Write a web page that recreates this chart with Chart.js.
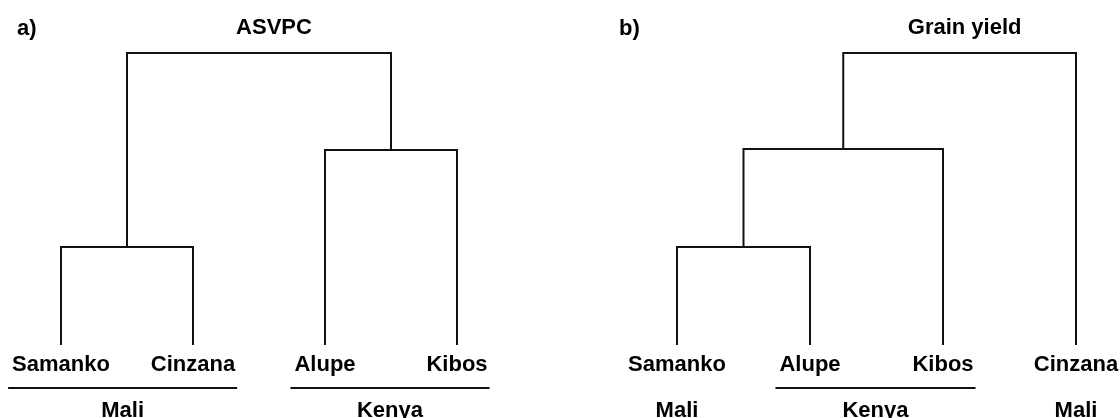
<!DOCTYPE html>
<html>
<head>
<meta charset="utf-8">
<script src="https://cdn.jsdelivr.net/npm/chart.js@4"></script>
<style>
  body { margin: 0; background: #fff; }
  #wrap { display: flex; width: 1120px; height: 418px; }
  canvas { display: block; }
</style>
</head>
<body>
<div id="wrap">
  <canvas id="chartA" width="560" height="418"></canvas>
  <canvas id="chartB" width="560" height="418"></canvas>
</div>
<script>
// panel a) ASVPC
const leavesA = ['Samanko', 'Cinzana', 'Alupe', 'Kibos'];
const groupsA = ['Mali', 'Mali', 'Kenya', 'Kenya'];
// [left node, right node, height]; leaves are 0..3, merges numbered from 4
const mergesA = [[0, 1, 33.6], [2, 3, 66.8], [4, 5, 100]];

// panel b) Grain yield
const leavesB = ['Samanko', 'Alupe', 'Kibos', 'Cinzana'];
const groupsB = ['Mali', 'Kenya', 'Kenya', 'Mali'];
const mergesB = [[0, 1, 33.6], [4, 2, 67.1], [5, 3, 100]];

const TITLES = ['ASVPC', 'Grain yield'];
const LETTERS = ['a)', 'b)'];

const FONT = 'bold 22px "Liberation Sans", Arial, Helvetica, sans-serif';
const INK = '#000';

function buildLinks(leaves, merges)
{
  var nx = [], nh = [];
  for (var i = 0; i < leaves.length; i++) { nx.push(i); nh.push(0); }
  var sets = [];
  for (var m = 0; m < merges.length; m++)
  {
    var l = merges[m][0], r = merges[m][1], h = merges[m][2];
    sets.push({
      data: [{x: nx[l], y: nh[l]}, {x: nx[l], y: h}, {x: nx[r], y: h}, {x: nx[r], y: nh[r]}],
      showLine: true,
      borderColor: '#111',
      borderWidth: 2,
      borderJoinStyle: 'miter',
      pointRadius: 0,
      tension: 0
    });
    nx.push((nx[l] + nx[r]) / 2);
    nh.push(h);
  }
  return {sets: sets, rootX: nx[nx.length - 1]};
}

// labels, group lines, titles
const labelPlugin = {
  id: 'labels',
  afterDraw(chart, args, o)
  {
    var ctx = chart.ctx, xs = chart.scales.x, ys = chart.scales.y;
    var base = ys.getPixelForValue(0);
    ctx.save();
    ctx.font = FONT;
    ctx.fillStyle = INK;
    ctx.strokeStyle = '#111';
    ctx.textBaseline = 'alphabetic';

    ctx.textAlign = 'left';
    ctx.fillText(o.letter, o.letterX, 35);
    ctx.textAlign = 'center';
    ctx.fillText(o.title, xs.getPixelForValue(o.rootX) + o.titleShift, 34);

    for (var i = 0; i < o.leaves.length; i++)
    {
      ctx.fillText(o.leaves[i], xs.getPixelForValue(i), base + 26);
    }

    // runs of the same group
    var s = 0;
    while (s < o.groups.length)
    {
      var e = s;
      while (e + 1 < o.groups.length && o.groups[e + 1] == o.groups[s]) e++;
      var cx;
      if (e > s)
      {
        var left = xs.getPixelForValue(s) - ctx.measureText(o.leaves[s]).width / 2 - 4;
        var right = xs.getPixelForValue(e) + ctx.measureText(o.leaves[e]).width / 2 + 2;
        ctx.lineWidth = 2;
        ctx.beginPath();
        ctx.moveTo(left, base + 43);
        ctx.lineTo(right, base + 43);
        ctx.stroke();
        cx = (left + right) / 2;
      }
      else
      {
        cx = xs.getPixelForValue(s);
      }
      ctx.fillText(o.groups[s], cx, base + 72);
      s = e + 1;
    }
    ctx.restore();
  }
};

function makeChart(id, leaves, groups, merges, title, letter, xmin, xmax, letterX, titleShift)
{
  var links = buildLinks(leaves, merges);
  return new Chart(document.getElementById(id), {
    type: 'scatter',
    data: { datasets: links.sets },
    options: {
      responsive: false,
      maintainAspectRatio: false,
      animation: false,
      layout: { padding: 0 },
      scales: {
        x: { type: 'linear', display: false, min: xmin, max: xmax },
        y: { type: 'linear', display: false, min: -25, max: 118.15 }
      },
      plugins: {
        legend: { display: false },
        tooltip: { enabled: false },
        labels: {
          leaves: leaves, groups: groups, title: title, letter: letter,
          rootX: links.rootX, letterX: letterX, titleShift: titleShift
        }
      }
    },
    plugins: [labelPlugin]
  });
}

makeChart('chartA', leavesA, groupsA, mergesA, TITLES[0], LETTERS[0], -61 / 132, 499 / 132, 17, 15);
makeChart('chartB', leavesB, groupsB, mergesB, TITLES[1], LETTERS[1], -117 / 133, 443 / 133, 59, 5);
</script>
</body>
</html>
